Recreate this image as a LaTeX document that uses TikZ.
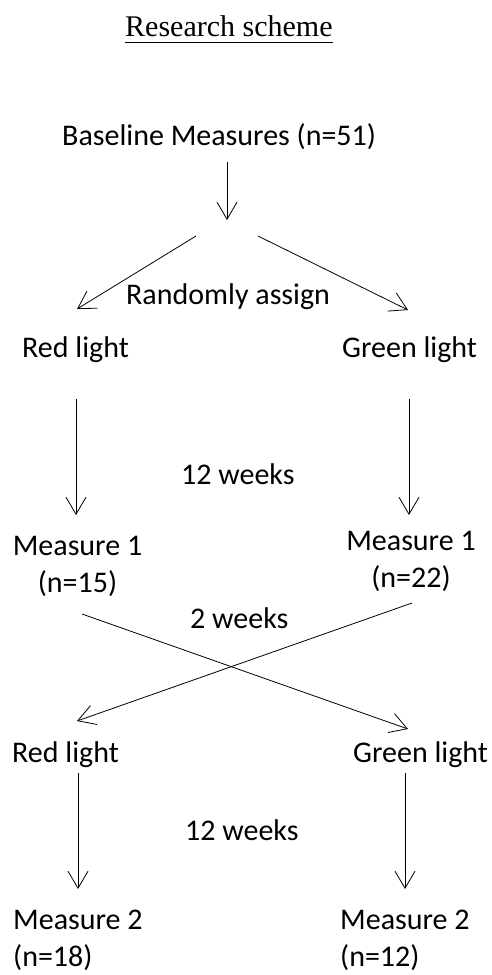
\documentclass[tikz,border=0pt]{standalone}
\usepackage{fontspec}
\setmainfont{Carlito}
\newfontfamily\titlefont{Liberation Serif}
\usetikzlibrary{arrows.meta}

\begin{document}
\begin{tikzpicture}[x=1pt, y=-1pt,
  every node/.style={inner sep=0pt, font=\fontsize{30}{37}\selectfont},
  lbl/.style={anchor=base west},
  arr/.style={line width=0.8pt, -{Straight Barb[length=17pt, width=20pt, line width=0.8pt]}},
  ln/.style={line width=0.8pt}]
\useasboundingbox (0,0) rectangle (491,975);

\node[lbl, font=\titlefont\fontsize{30}{36}\selectfont] (title) at (125,36) {Research scheme};
\draw[ln] ([yshift=-6pt]title.base west) -- ([yshift=-6pt]title.base east);

\node[lbl] (base) at (62,145) {Baseline Measures (n=51)};
\node[lbl] (rand) at (126,304) {Randomly assign};
\node[lbl] (red1) at (22,357) {Red light};
\node[lbl] (green1) at (342,357) {Green light};
\node[lbl] (wk1) at (181,484) {12 weeks};
% two-line nodes: base is the last line
\node[anchor=base, align=center] (mes1a) at (77.5,592) {Measure 1\\(n=15)};
\node[anchor=base, align=center] (mes1b) at (411,587) {Measure 1\\(n=22)};
\node[lbl] (wk2) at (190,628) {2 weeks};
\node[lbl] (red2) at (12,762) {Red light};
\node[lbl] (green2) at (353,762) {Green light};
\node[lbl] (wk3) at (185,840) {12 weeks};
\node[anchor=base west, align=left] (mes2a) at (13,966) {Measure 2\\(n=18)};
\node[anchor=base west, align=left] (mes2b) at (340,966) {Measure 2\\(n=12)};

\coordinate (b0) at (227,162);
\coordinate (b1) at (227,220);
\coordinate (s1) at (196,236);
\coordinate (s2) at (258,236);
\coordinate (r1) at (77,309);
\coordinate (g1) at (408,310);
\coordinate (r2) at (76,399);
\coordinate (r3) at (76,515);
\coordinate (g2) at (409,399);
\coordinate (g3) at (409,515);
\coordinate (x1) at (82,614);
\coordinate (x2) at (408,729);
\coordinate (x3) at (412,603);
\coordinate (x4) at (77,721);
\coordinate (r4) at (78,773);
\coordinate (r5) at (78,889);
\coordinate (g4) at (405,773);
\coordinate (g5) at (405,889);

\draw[arr] (b0) -- (b1);
\draw[arr] (s1) -- (r1);
\draw[arr] (s2) -- (g1);
\draw[arr] (r2) -- (r3);
\draw[arr] (g2) -- (g3);
\draw[arr] (x1) -- (x2);
\draw[arr] (x3) -- (x4);
\draw[arr] (r4) -- (r5);
\draw[arr] (g4) -- (g5);

\end{tikzpicture}
\end{document}
